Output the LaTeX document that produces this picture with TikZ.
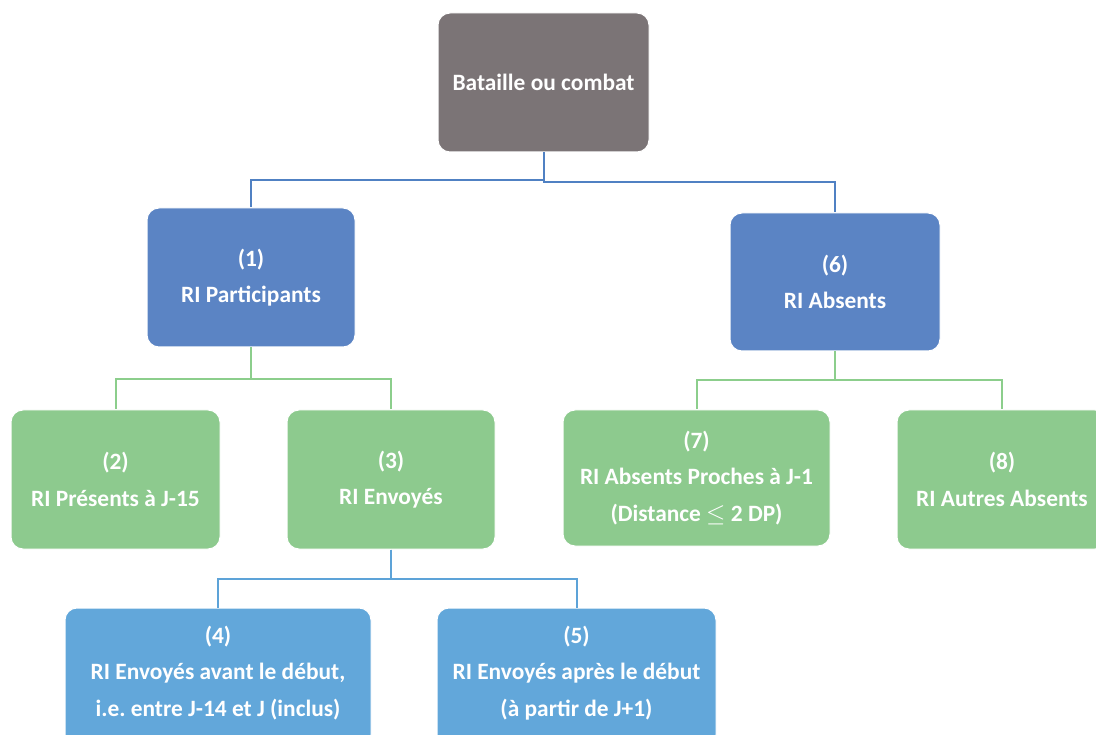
\documentclass[tikz,border=0pt]{standalone}
\usepackage{fontspec}
\setmainfont{Carlito}
\frenchspacing
\definecolor{cgray}{RGB}{123,116,118}
\definecolor{cblue}{RGB}{91,132,196}
\definecolor{cgreen}{RGB}{141,202,142}
\definecolor{clblue}{RGB}{98,167,218}
\definecolor{lblue}{RGB}{80,129,195}
\definecolor{lgreen}{RGB}{140,206,140}
\definecolor{llblue}{RGB}{93,163,216}
\begin{document}
\begin{tikzpicture}[x=1pt,y=-1pt,
  txt/.style={text=white, align=center, inner sep=0pt,
    font=\fontsize{23.4}{36.5}\selectfont\bfseries},
  box/.style={txt, rounded corners=12pt, draw=white, line width=1pt},
  conn/.style={line width=2pt}]
\useasboundingbox (0,0) rectangle (1096,735);
\clip (0,0) rectangle (1096,735);
\fill[white] (0,0) rectangle (1096,735);
\node[box, fill=cgray, minimum width=211pt, minimum height=139pt] (top) at (543.5,82.5) {Bataille ou combat};
\node[box, fill=cblue, minimum width=208pt, minimum height=139pt] (n1) at (251,277.5) {(1)\\RI Participants};
\node[box, fill=cblue, minimum width=210pt, minimum height=138pt] (n6) at (835,282) {(6)\\RI Absents};
\node[box, fill=cgreen, minimum width=209pt, minimum height=139pt] (n2) at (115.5,479.5) {(2)\\RI Présents à J-15};
\node[box, fill=cgreen, minimum width=208pt, minimum height=139pt] (n3) at (391,479.5) {(3)\\RI Envoyés};
\node[box, fill=cgreen, minimum width=267pt, minimum height=136pt] (n7) at (696.5,478) {(7)\\RI Absents Proches à J-1\\(Distance $\le$ 2 DP)};
\node[box, fill=cgreen, minimum width=210pt, minimum height=139pt] (n8) at (1002,479.5) {(8)\\RI Autres Absents};
\node[box, fill=clblue, minimum width=306pt, minimum height=139pt] (n4) at (218,677.5) {};
\node[txt] (t4) at (218,673) {(4)\\RI Envoyés avant le début,\\i.e.\ entre J-14 et J (inclus)};
\node[box, fill=clblue, minimum width=279pt, minimum height=139pt] (n5) at (576.5,677.5) {};
\node[txt] (t5) at (576.5,673) {(5)\\RI Envoyés après le début\\(à partir de J+1)};
\draw[conn, lblue] (top.south) -- ++(0,28) -| (n1.north);
\draw[conn, lblue] (top.south) -- ++(0,30) -| (n6.north);
\draw[conn, lgreen] (n1.south) -- ++(0,32) -| (n2.north);
\draw[conn, lgreen] (n1.south) -- ++(0,32) -| (n3.north);
\draw[conn, lgreen] (n6.south) -- ++(0,29) -| (n7.north);
\draw[conn, lgreen] (n6.south) -- ++(0,29) -| (n8.north);
\draw[conn, llblue] (n3.south) -- ++(0,29) -| (n4.north);
\draw[conn, llblue] (n3.south) -- ++(0,29) -| (n5.north);
\end{tikzpicture}
\end{document}
